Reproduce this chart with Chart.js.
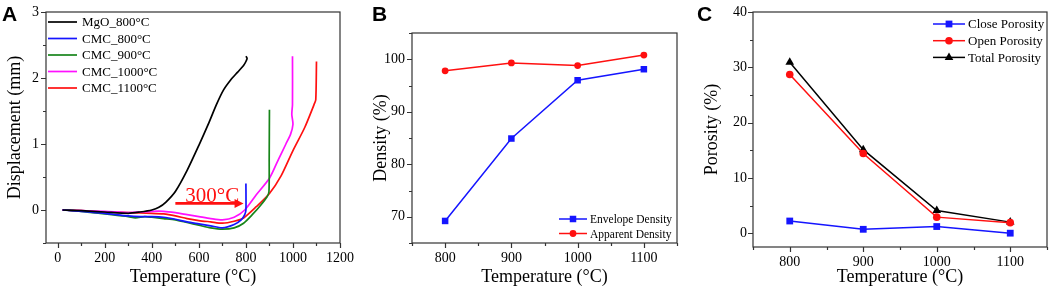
<!DOCTYPE html>
<html>
<head>
<meta charset="utf-8">
<script src="https://cdn.jsdelivr.net/npm/chart.js@4.4.1/dist/chart.umd.min.js"></script>
<style>
html, body { margin: 0; padding: 0; background: #fff; }
#wrap { position: relative; width: 1052px; height: 291px; overflow: hidden; }
canvas { position: absolute; top: 0; }
.letter { position: absolute; top: 2px; line-height: 21px; font: bold 21px "Liberation Sans", Arial, sans-serif; color: #000; }
</style>
</head>
<body>
<div id="wrap">
  <canvas id="chartA" width="360" height="291" style="left:0px"></canvas>
  <canvas id="chartB" width="330" height="291" style="left:360px"></canvas>
  <canvas id="chartC" width="352" height="291" style="left:700px"></canvas>
  <div class="letter" style="left:2px">A</div>
  <div class="letter" style="left:372px">B</div>
  <div class="letter" style="left:697px">C</div>
</div>
<script>
// ---- panel A : displacement curves ----
var mgoT = [20, 100, 200, 300, 350, 400, 430, 460, 500, 550, 600, 640, 675, 705, 735, 765, 790, 800, 805, 800];
var mgoD = [0, -0.01, -0.03, -0.05, -0.03, 0.0, 0.04, 0.12, 0.28, 0.6, 0.98, 1.3, 1.6, 1.82, 1.97, 2.09, 2.19, 2.25, 2.3, 2.33];

var c800T = [20, 100, 200, 300, 350, 400, 450, 500, 550, 600, 650, 700, 750, 780, 795, 800, 800];
var c800D = [0, -0.02, -0.05, -0.09, -0.1, -0.1, -0.11, -0.14, -0.18, -0.21, -0.24, -0.27, -0.22, -0.15, -0.07, 0.0, 0.4];

var c900T = [30, 100, 200, 300, 330, 370, 400, 450, 500, 550, 600, 650, 700, 750, 790, 830, 860, 890, 898, 899, 900];
var c900D = [0, -0.02, -0.06, -0.1, -0.12, -0.1, -0.11, -0.13, -0.15, -0.19, -0.23, -0.27, -0.29, -0.27, -0.2, -0.06, 0.06, 0.2, 0.28, 0.8, 1.52];

var c1000T = [20, 100, 200, 300, 350, 400, 450, 500, 550, 600, 650, 700, 750, 795, 844, 900, 940, 970, 990, 1000, 995, 998, 998];
var c1000D = [0, -0.01, -0.02, -0.04, -0.03, -0.02, -0.02, -0.04, -0.07, -0.1, -0.13, -0.15, -0.11, 0.0, 0.23, 0.48, 0.78, 1.0, 1.15, 1.3, 1.45, 1.6, 2.33];

var c1100T = [20, 100, 200, 300, 400, 450, 500, 550, 600, 650, 700, 750, 790, 844, 900, 950, 1000, 1050, 1090, 1097, 1100];
var c1100D = [0, -0.01, -0.03, -0.04, -0.05, -0.06, -0.09, -0.13, -0.16, -0.18, -0.2, -0.17, -0.12, 0.05, 0.25, 0.52, 0.9, 1.25, 1.6, 1.67, 2.25];

var xTicksA = [0, 100, 200, 300, 400, 500, 600, 700, 800, 900, 1000, 1100, 1200];
var xMajorA = [0, 200, 400, 600, 800, 1000, 1200];
var yTicksA = [-0.5, 0, 0.5, 1, 1.5, 2, 2.5, 3];
var yMajorA = [0, 1, 2, 3];

// ---- panel B and C : sintering temperatures ----
var temps = [800, 900, 1000, 1100];
var envelopeDensity = [69.2, 84.9, 96.0, 98.1];
var apparentDensity = [97.8, 99.3, 98.8, 100.8];
var closePorosity = [2.2, 0.7, 1.2, 0.0];
var openPorosity = [28.7, 14.4, 2.9, 1.9];
var totalPorosity = [30.9, 15.1, 4.1, 2.0];

var xTicksBC = [750, 800, 850, 900, 950, 1000, 1050, 1100, 1150];
var xMajorBC = [800, 900, 1000, 1100];
var yTicksB = [65, 70, 75, 80, 85, 90, 95, 100, 105];
var yMajorB = [70, 80, 90, 100];
var yTicksC = [0, 5, 10, 15, 20, 25, 30, 35, 40];
var yMajorC = [0, 10, 20, 30, 40];

var SERIF = '"Liberation Serif", "Times New Roman", serif';

function pts(xs, ys) {
  return xs.map(function (v, i) { return {x: v, y: ys[i]}; });
}

function drawMarker(ctx, style, r, x, y) {
  ctx.beginPath();
  if (style === 'rect') {
    var s = r * Math.SQRT1_2;
    ctx.rect(x - s, y - s, 2 * s, 2 * s);
  } else if (style === 'triangle') {
    ctx.moveTo(x, y - r);
    ctx.lineTo(x + r * 0.866, y + r * 0.5);
    ctx.lineTo(x - r * 0.866, y + r * 0.5);
    ctx.closePath();
  } else {
    ctx.arc(x, y, r, 0, Math.PI * 2);
  }
  ctx.fill();
}

// box frame with outward major/minor tick marks
var frameTicks = {
  id: 'frameTicks',
  afterDraw: function (chart) {
    var ctx = chart.ctx, a = chart.chartArea;
    var sx = chart.scales.x, sy = chart.scales.y;
    ctx.save();
    ctx.strokeStyle = '#333';
    ctx.lineWidth = 1.2;
    ctx.strokeRect(a.left, a.top, a.right - a.left, a.bottom - a.top);
    ctx.beginPath();
    sx.ticks.forEach(function (t) {
      var px = Math.round(sx.getPixelForValue(t.value)) + 0.5;
      ctx.moveTo(px, a.bottom);
      ctx.lineTo(px, a.bottom + (t.label ? 5 : 3));
    });
    sy.ticks.forEach(function (t) {
      var py = Math.round(sy.getPixelForValue(t.value)) + 0.5;
      ctx.moveTo(a.left, py);
      ctx.lineTo(a.left - (t.label ? 5 : 3), py);
    });
    ctx.stroke();
    ctx.restore();
  }
};

// simple legend placed inside the plot
var boxLegend = {
  id: 'boxLegend',
  afterDatasetsDraw: function (chart, args, o) {
    var ctx = chart.ctx;
    ctx.save();
    ctx.font = o.font;
    ctx.textBaseline = 'middle';
    ctx.textAlign = 'left';
    chart.data.datasets.forEach(function (ds, i) {
      var y = o.top + i * o.rowGap;
      ctx.strokeStyle = ds.borderColor;
      ctx.lineWidth = ds.borderWidth;
      ctx.beginPath();
      ctx.moveTo(o.left, y);
      ctx.lineTo(o.left + o.lineLen, y);
      ctx.stroke();
      if (ds.pointRadius > 0) {
        ctx.fillStyle = ds.backgroundColor;
        drawMarker(ctx, ds.pointStyle, ds.pointRadius, o.left + o.lineLen / 2, y);
      }
      ctx.fillStyle = '#000';
      ctx.fillText(ds.label, o.left + o.lineLen + o.textGap, y + 1);
    });
    ctx.restore();
  }
};

// red arrow with label in panel A
var arrowNote = {
  id: 'arrowNote',
  afterDatasetsDraw: function (chart, args, o) {
    if (!o.text) return;
    var ctx = chart.ctx, sx = chart.scales.x, sy = chart.scales.y;
    var x0 = sx.getPixelForValue(o.from), x1 = sx.getPixelForValue(o.to);
    var y = sy.getPixelForValue(o.at);
    ctx.save();
    ctx.strokeStyle = o.color;
    ctx.fillStyle = o.color;
    ctx.lineWidth = 2.6;
    ctx.beginPath();
    ctx.moveTo(x0, y);
    ctx.lineTo(x1 - 7, y);
    ctx.stroke();
    ctx.beginPath();
    ctx.moveTo(x1, y);
    ctx.lineTo(x1 - 9, y - 4.5);
    ctx.lineTo(x1 - 9, y + 4.5);
    ctx.closePath();
    ctx.fill();
    ctx.font = '21px ' + SERIF;
    ctx.textAlign = 'center';
    ctx.textBaseline = 'alphabetic';
    ctx.fillText(o.text, sx.getPixelForValue(o.textX), sy.getPixelForValue(o.textY));
    ctx.restore();
  }
};

function axis(isX, min, max, tickVals, majors, title, titlePad, size, labelPad) {
  return {
    type: 'linear',
    min: min,
    max: max,
    grid: {display: false, drawTicks: false},
    border: {display: false},
    afterBuildTicks: function (s) { s.ticks = tickVals.map(function (v) { return {value: v}; }); },
    afterFit: function (s) {
      if (isX) s.height = size; else s.width = size;
      // keep the plot box where the layout puts it, even if end labels overhang
      s.paddingLeft = s.paddingRight = s.paddingTop = s.paddingBottom = 0;
    },
    ticks: {
      autoSkip: false,
      maxRotation: 0,
      padding: labelPad,
      color: '#000',
      font: {family: SERIF, size: 14},
      callback: function (v) { return majors.indexOf(v) >= 0 ? String(v) : ''; }
    },
    title: {
      display: true,
      text: title,
      color: '#000',
      font: {family: SERIF, size: 18},
      padding: isX ? {top: 0, bottom: titlePad} : {top: titlePad, bottom: 0}
    }
  };
}

function lineSet(label, data, color, style, radius) {
  return {
    label: label,
    data: data,
    borderColor: color,
    backgroundColor: color,
    borderWidth: 1.5,
    pointStyle: style || 'circle',
    pointRadius: radius || 0,
    pointHoverRadius: radius || 0,
    pointBorderWidth: 0,
    showLine: true,
    tension: 0
  };
}

function baseOptions(padding, xAxis, yAxis, legend, note) {
  return {
    responsive: false,
    animation: false,
    devicePixelRatio: 1,
    layout: {padding: padding},
    plugins: {
      legend: {display: false},
      tooltip: {enabled: false},
      boxLegend: legend,
      arrowNote: note || {}
    },
    scales: {x: xAxis, y: yAxis}
  };
}

Chart.register(frameTicks, boxLegend, arrowNote);

// ----- A -----
var setsA = [
  lineSet('MgO_800°C', pts(mgoT, mgoD), '#000000'),
  lineSet('CMC_800°C', pts(c800T, c800D), '#1515ff'),
  lineSet('CMC_900°C', pts(c900T, c900D), '#17851a'),
  lineSet('CMC_1000°C', pts(c1000T, c1000D), '#ff10ff'),
  lineSet('CMC_1100°C', pts(c1100T, c1100D), '#ff1010')
];
setsA.forEach(function (d) { d.tension = 0.25; d.borderWidth = 1.7; });

new Chart(document.getElementById('chartA'), {
  type: 'scatter',
  data: {datasets: setsA},
  options: baseOptions(
    {top: 12, right: 20, bottom: 0, left: 0},
    axis(true, -50, 1200, xTicksA, xMajorA, 'Temperature (°C)', 3, 48, 7),
    axis(false, -0.5, 3, yTicksA, yMajorA, 'Displacement (mm)', 4, 46, 7),
    {left: 48, top: 22, rowGap: 16.5, lineLen: 29, textGap: 5, font: '13px ' + SERIF},
    {from: 500, to: 790, at: 0.1, text: '300°C', textX: 657, textY: 0.12, color: '#ff1010'}
  )
});

// ----- B -----
new Chart(document.getElementById('chartB'), {
  type: 'scatter',
  data: {datasets: [
    lineSet('Envelope Density', pts(temps, envelopeDensity), '#1515ff', 'rect', 4.6),
    lineSet('Apparent Density', pts(temps, apparentDensity), '#ff1010', 'circle', 3.4)
  ]},
  options: baseOptions(
    {top: 33, right: 13, bottom: 0, left: 0},
    axis(true, 750, 1150, xTicksBC, xMajorBC, 'Temperature (°C)', 3, 48, 7),
    axis(false, 65, 105, yTicksB, yMajorB, 'Density (%)', 10, 52, 7),
    {left: 199, top: 219, rowGap: 14.5, lineLen: 28, textGap: 3, font: '11.5px ' + SERIF}
  )
});

// ----- C -----
new Chart(document.getElementById('chartC'), {
  type: 'scatter',
  data: {datasets: [
    lineSet('Close Porosity', pts(temps, closePorosity), '#1515ff', 'rect', 4.8),
    lineSet('Open Porosity', pts(temps, openPorosity), '#ff1010', 'circle', 3.8),
    lineSet('Total Porosity', pts(temps, totalPorosity), '#000000', 'triangle', 5)
  ]},
  options: baseOptions(
    {top: 12, right: 3, bottom: 0, left: 0},
    axis(true, 750, 1150, xTicksBC, xMajorBC, 'Temperature (°C)', 3, 44, 7),
    axis(false, -2.5, 40, yTicksC, yMajorC, 'Porosity (%)', 1, 53, 6),
    {left: 233, top: 24, rowGap: 16.7, lineLen: 32, textGap: 3, font: '13px ' + SERIF}
  )
});
</script>
</body>
</html>
